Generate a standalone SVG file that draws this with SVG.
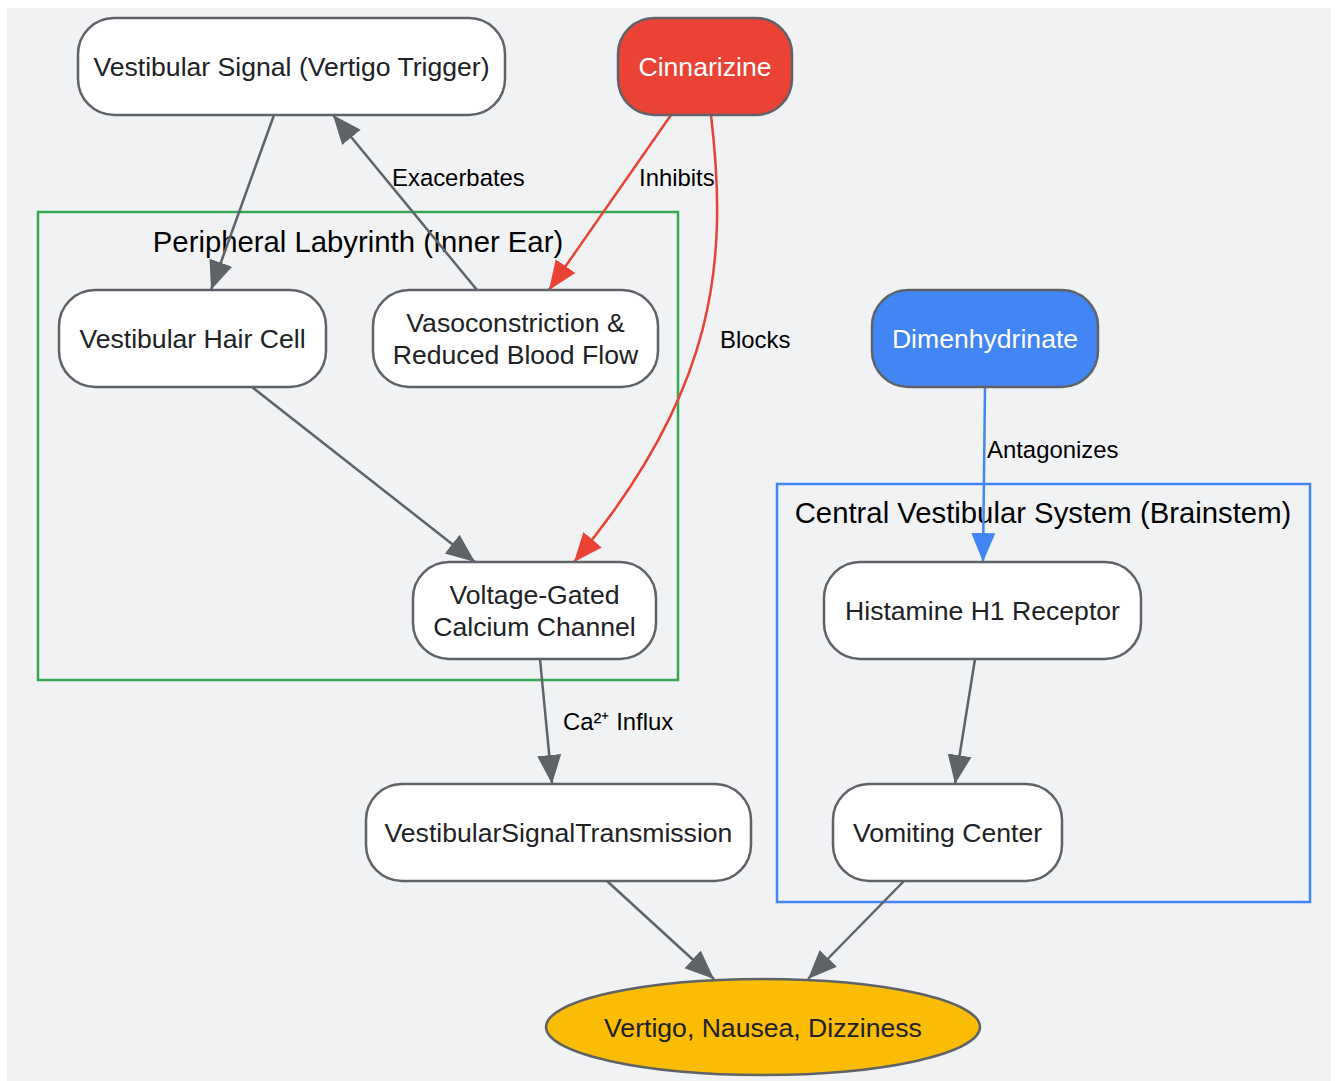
<svg xmlns="http://www.w3.org/2000/svg" width="1339" height="1081" viewBox="0 0 1339 1081">
<defs>
<style>
.node rect, .node ellipse { stroke: #5f6368; stroke-width: 2.5; }
.plain { fill: #ffffff; }
.nt { font-family: "Liberation Sans", Arial, sans-serif; font-size: 26.6px; fill: #202124; text-anchor: middle; }
.wt { fill: #ffffff; }
.el { font-family: "Liberation Sans", Arial, sans-serif; font-size: 23.9px; fill: #000000; }
.cl { font-family: "Liberation Sans", Arial, sans-serif; font-size: 29.3px; fill: #000000; text-anchor: middle; }
.e { fill: none; stroke-width: 2.5; }
.gray { stroke: #5f6368; }
.red { stroke: #ea4335; }
.blue { stroke: #4285f4; }
</style>
<marker id="ag" markerUnits="userSpaceOnUse" markerWidth="30" markerHeight="26" refX="29" refY="12" orient="auto" viewBox="0 0 30 24"><path d="M0,0 L29,12 L0,24 z" fill="#5f6368"/></marker>
<marker id="ar" markerUnits="userSpaceOnUse" markerWidth="30" markerHeight="26" refX="29" refY="12" orient="auto" viewBox="0 0 30 24"><path d="M0,0 L29,12 L0,24 z" fill="#ea4335"/></marker>
<marker id="ab" markerUnits="userSpaceOnUse" markerWidth="30" markerHeight="26" refX="29" refY="12" orient="auto" viewBox="0 0 30 24"><path d="M0,0 L29,12 L0,24 z" fill="#4285f4"/></marker>
</defs>
<rect x="7" y="8" width="1324" height="1073" fill="#f1f2f4"/>

<g id="cluster-peripheral">
<rect x="38" y="212" width="640" height="468" fill="none" stroke="#34a853" stroke-width="2.5"/>
<text class="cl" x="358" y="252">Peripheral Labyrinth (Inner Ear)</text>
</g>
<g id="cluster-central">
<rect x="777" y="484" width="533" height="418" fill="none" stroke="#4285f4" stroke-width="2.5"/>
<text class="cl" x="1043" y="523">Central Vestibular System (Brainstem)</text>
</g>

<g id="connectors">
<line class="e gray" x1="274" y1="115" x2="211" y2="290" marker-end="url(#ag)"/>
<line class="e gray" x1="477" y1="290" x2="333" y2="115" marker-end="url(#ag)"/>
<text class="el" x="392" y="186">Exacerbates</text>
<line class="e red" x1="671" y1="115" x2="549" y2="290" marker-end="url(#ar)"/>
<text class="el" x="639" y="186">Inhibits</text>
<path class="e red" d="M711,115 C728,260 718,390 574,562" marker-end="url(#ar)"/>
<text class="el" x="720" y="348">Blocks</text>
<line class="e gray" x1="252" y1="387" x2="475" y2="562" marker-end="url(#ag)"/>
<line class="e blue" x1="985" y1="387" x2="983" y2="562" marker-end="url(#ab)"/>
<text class="el" x="987" y="458">Antagonizes</text>
<line class="e gray" x1="540" y1="659" x2="552" y2="784" marker-end="url(#ag)"/>
<text class="el" x="563" y="730">Ca²⁺ Influx</text>
<line class="e gray" x1="975" y1="659" x2="955" y2="784" marker-end="url(#ag)"/>
<line class="e gray" x1="607" y1="881" x2="714" y2="979" marker-end="url(#ag)"/>
<line class="e gray" x1="904" y1="881" x2="808" y2="979" marker-end="url(#ag)"/>
</g>

<g id="node-vestibular-signal" class="node">
<rect class="plain" x="78" y="18" width="427" height="97" rx="36"/>
<text class="nt" x="291.5" y="76">Vestibular Signal (Vertigo Trigger)</text>
</g>
<g id="node-cinnarizine" class="node">
<rect x="618" y="18" width="174" height="97" rx="36" fill="#ea4335"/>
<text class="nt wt" x="705" y="76">Cinnarizine</text>
</g>
<g id="node-hair-cell" class="node">
<rect class="plain" x="59" y="290" width="267" height="97" rx="36"/>
<text class="nt" x="192.5" y="348">Vestibular Hair Cell</text>
</g>
<g id="node-vasoconstriction" class="node">
<rect class="plain" x="373" y="290" width="285" height="97" rx="36"/>
<text class="nt" x="515.5" y="332">Vasoconstriction &amp;</text>
<text class="nt" x="515.5" y="364">Reduced Blood Flow</text>
</g>
<g id="node-dimenhydrinate" class="node">
<rect x="872" y="290" width="226" height="97" rx="36" fill="#4285f4"/>
<text class="nt wt" x="985" y="348">Dimenhydrinate</text>
</g>
<g id="node-vgcc" class="node">
<rect class="plain" x="413" y="562" width="243" height="97" rx="36"/>
<text class="nt" x="534.5" y="604">Voltage-Gated</text>
<text class="nt" x="534.5" y="636">Calcium Channel</text>
</g>
<g id="node-h1" class="node">
<rect class="plain" x="824" y="562" width="317" height="97" rx="36"/>
<text class="nt" x="982.5" y="620">Histamine H1 Receptor</text>
</g>
<g id="node-vst" class="node">
<rect class="plain" x="366" y="784" width="385" height="97" rx="36"/>
<text class="nt" x="558.5" y="842">VestibularSignalTransmission</text>
</g>
<g id="node-vomiting" class="node">
<rect class="plain" x="833" y="784" width="229" height="97" rx="36"/>
<text class="nt" x="947.5" y="842">Vomiting Center</text>
</g>
<g id="node-symptoms" class="node">
<ellipse cx="763" cy="1027" rx="217" ry="48" fill="#fbbc04"/>
<text class="nt" x="763" y="1037">Vertigo, Nausea, Dizziness</text>
</g>
</svg>
